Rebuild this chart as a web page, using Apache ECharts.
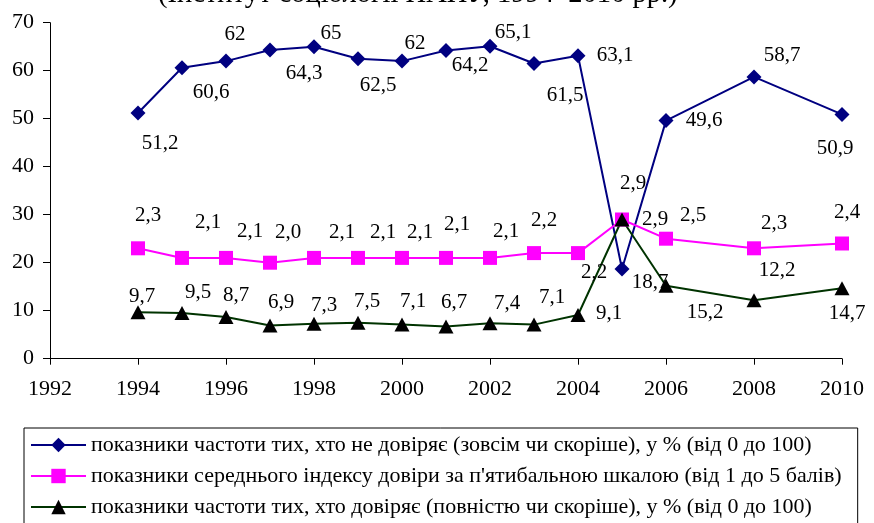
<!DOCTYPE html>
<html>
	<head>
		<meta charset="UTF-8">
		<title>Довіра</title>
		<script src="https://cdn.jsdelivr.net/npm/echarts@6/dist/echarts.min.js" type="text/javascript"></script>
		<style>
			html, body { margin: 0; padding: 0; background: #fff; }
			#chart { width: 874px; height: 523px; }
		</style>
	</head>
	<body>
		<div id="chart"></div>
		<script type="text/javascript">
			// роки
			var years = [1994, 1995, 1996, 1997, 1998, 1999, 2000, 2001, 2002, 2003, 2004, 2005, 2006, 2008, 2010];

			// не довіряє, %
			var distrust = [51.2, 60.6, 62, 64.3, 65, 62.5, 62, 64.2, 65.1, 61.5, 63.1, 18.7, 49.6, 58.7, 50.9];
			var distrustLabels = ['51,2', '60,6', '62', '64,3', '65', '62,5', '62', '64,2', '65,1', '61,5', '63,1', '18,7', '49,6', '58,7', '50,9'];

			// середній індекс довіри (на графіку x10)
			var trustIndex = [23, 21, 21, 20, 21, 21, 21, 21, 21, 22, 22, 29, 25, 23, 24];
			var trustIndexLabels = ['2,3', '2,1', '2,1', '2,0', '2,1', '2,1', '2,1', '2,1', '2,1', '2,2', '2,2', '2,9', '2,5', '2,3', '2,4'];

			// довіряє, %
			var trust = [9.7, 9.5, 8.7, 6.9, 7.3, 7.5, 7.1, 6.7, 7.4, 7.1, 9.1, 29, 15.2, 12.2, 14.7];
			var trustLabels = ['9,7', '9,5', '8,7', '6,9', '7,3', '7,5', '7,1', '6,7', '7,4', '7,1', '9,1', '2,9', '15,2', '12,2', '14,7'];

			var seriesNames = [
				'показники частоти тих, хто не довіряє (зовсім чи скоріше), у % (від 0 до 100)',
				'показники середнього індексу довіри за п\'ятибальною шкалою (від 1 до 5 балів)',
				'показники частоти тих, хто довіряє (повністю чи скоріше), у % (від 0 до 100)'
			];

			// зсуви підписів від точки, px
			var distrustOffsets = [[22, 31], [29, 25], [9, -27], [34, 23], [17, -13], [20, 27], [13, -18], [24, 15], [23, -14], [31, 32], [37, 0], [28, 14], [38, 0], [28, -21], [-7, 34]];
			var trustIndexOffsets = [[10, -33], [26, -35], [24, -26], [18, -30], [28, -25], [25, -25], [18, -25], [11, -33], [16, -26], [10, -33], [16, 19], [11, -36], [27, -23], [20, -25], [5, -31]];
			var trustOffsets = [[4, -16], [16, -21], [10, -21], [11, -23], [10, -18], [9, -21], [11, -23], [8, -24], [17, -20], [18, -27], [31, -2], [33, 0], [39, 27], [23, -30], [5, 25]];

			var serif = 'Liberation Serif';

			function buildData(values, offsets) {
				var arr = [];
				for (var i = 0; i < years.length; i++) {
					arr.push({
						value: [years[i], values[i]],
						label: { offset: offsets[i] }
					});
				}
				return arr;
			}

			function makeLabel(texts) {
				return {
					show: true,
					position: 'inside',
					align: 'center',
					verticalAlign: 'middle',
					fontFamily: serif,
					fontSize: 21,
					color: '#000',
					formatter: function (p) { return texts[p.dataIndex]; }
				};
			}

			var myChart = echarts.init(document.getElementById('chart'));
			var option = {
				animation: false,
				title: {
					text: '(Інститут соціології НАНУ, 1994–2010 рр.)',
					left: 158,
					top: -20,
					padding: 0,
					textStyle: { fontFamily: serif, fontSize: 28.5, fontWeight: 'normal', color: '#000' }
				},
				grid: { left: 50, right: 32, top: 22.7, bottom: 164.3 },
				xAxis: {
					type: 'value',
					min: 1992,
					max: 2010,
					interval: 2,
					axisLine: { lineStyle: { color: '#000', width: 1 } },
					axisTick: { length: 6, lineStyle: { color: '#000' } },
					axisLabel: {
						margin: 20, fontFamily: serif, fontSize: 22, color: '#000',
						formatter: function (v) { return String(v); }
					},
					splitLine: { show: false }
				},
				yAxis: {
					type: 'value',
					min: 0,
					max: 70,
					interval: 10,
					axisLine: { show: true, lineStyle: { color: '#000', width: 1 } },
					axisTick: { show: true, length: 7, lineStyle: { color: '#000' } },
					axisLabel: { margin: 16, fontFamily: serif, fontSize: 22, color: '#000' },
					splitLine: { show: false }
				},
				legend: {
					orient: 'vertical',
					left: 24,
					top: 428,
					width: 831,
					height: 200,
					padding: [6, 16, 20, 6],
					itemGap: 9,
					itemWidth: 55,
					itemHeight: 18,
					borderColor: '#000',
					borderWidth: 1,
					textStyle: { fontFamily: serif, fontSize: 22, color: '#000' },
					data: seriesNames
				},
				series: [
					{
						name: seriesNames[0],
						type: 'line',
						symbol: 'diamond',
						symbolSize: 15,
						color: '#000080',
						lineStyle: { color: '#000080', width: 2 },
						itemStyle: { color: '#000080' },
						label: makeLabel(distrustLabels),
						data: buildData(distrust, distrustOffsets)
					},
					{
						name: seriesNames[1],
						type: 'line',
						symbol: 'rect',
						symbolSize: 14,
						color: '#ff00ff',
						lineStyle: { color: '#ff00ff', width: 2 },
						itemStyle: { color: '#ff00ff' },
						label: makeLabel(trustIndexLabels),
						data: buildData(trustIndex, trustIndexOffsets)
					},
					{
						name: seriesNames[2],
						type: 'line',
						symbol: 'triangle',
						symbolSize: [15, 14],
						color: '#000',
						lineStyle: { color: '#003300', width: 2 },
						itemStyle: { color: '#000' },
						label: makeLabel(trustLabels),
						data: buildData(trust, trustOffsets)
					}
				]
			};
			myChart.setOption(option);
		</script>
	</body>
</html>
